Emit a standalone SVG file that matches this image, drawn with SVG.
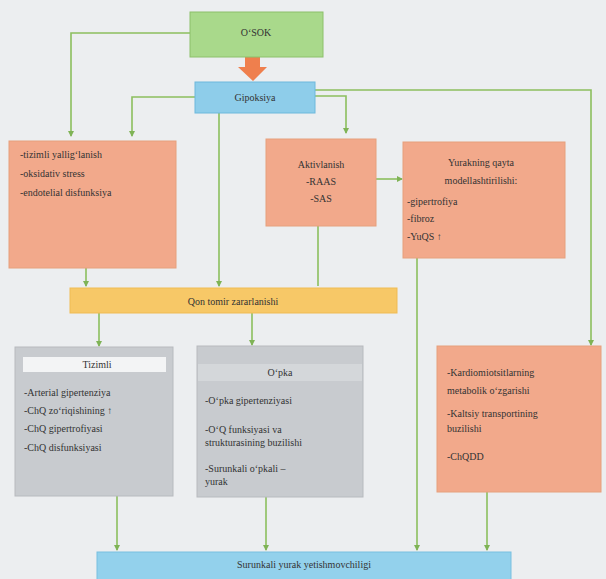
<svg xmlns="http://www.w3.org/2000/svg" width="606" height="579" viewBox="0 0 606 579" font-family="'Liberation Serif', 'Times New Roman', serif">
<defs>
<marker id="ah" markerWidth="6" markerHeight="6" refX="5" refY="3" orient="auto" markerUnits="userSpaceOnUse">
<path d="M0,0 L6,3 L0,6 z" fill="#7fb356"/>
</marker>
<style>
text{font-family:'Liberation Serif','Times New Roman',serif}
.t{font-size:10px;fill:#333333}
.c{text-anchor:middle}
.ln{fill:none;stroke:#8cbf5e;stroke-width:1.6}
.or{fill:#f2a98b;stroke:#e6a07c;stroke-width:1}
.gr{fill:#c8cbcf;stroke:#b7babe;stroke-width:1}
</style>
</defs>
<rect width="606" height="579" fill="#eceef0"/>
<g id="connectors">
<path class="ln" d="M190,33 H71 V136" marker-end="url(#ah)"/>
<path class="ln" d="M195,97 H132 V136" marker-end="url(#ah)"/>
<path class="ln" d="M219,113 V286" marker-end="url(#ah)"/>
<path class="ln" d="M315,96 H346 V133" marker-end="url(#ah)"/>
<path class="ln" d="M315,90 H591 V345" marker-end="url(#ah)"/>
<path class="ln" d="M376,179 H402" marker-end="url(#ah)"/>
<path class="ln" d="M86,268 V286" marker-end="url(#ah)"/>
<path class="ln" d="M318,226 V286"/>
<path class="ln" d="M417,258 V550" marker-end="url(#ah)"/>
<path class="ln" d="M99,313 V346" marker-end="url(#ah)"/>
<path class="ln" d="M252,313 V345" marker-end="url(#ah)"/>
<path class="ln" d="M117,496 V550" marker-end="url(#ah)"/>
<path class="ln" d="M266,497 V550" marker-end="url(#ah)"/>
<path class="ln" d="M487,492 V550" marker-end="url(#ah)"/>
<path d="M245,57 H260 V67 H267 L253,81 L238,67 H245 z" fill="#ef7f4d"/>
</g>
<g id="osok">
<rect x="190" y="12" width="133" height="45" fill="#a9d98b" stroke="#8cc06a"/>
<text class="t c" x="256" y="36" font-size="9">O‘SOK</text>
</g>
<g id="gipoksiya">
<rect x="195" y="82" width="120" height="31" fill="#8ecdea" stroke="#6db8dc"/>
<text class="t c" x="255" y="101" fill="#2f4a6a">Gipoksiya</text>
</g>
<g id="tizimli-yallig">
<rect class="or" x="9" y="141" width="167" height="127"/>
<text class="t" x="20" y="158">-tizimli yallig‘lanish</text>
<text class="t" x="20" y="177">-oksidativ stress</text>
<text class="t" x="20" y="196">-endotelial disfunksiya</text>
</g>
<g id="aktivlanish">
<rect class="or" x="266" y="139" width="110" height="87"/>
<text class="t c" x="321" y="168">Aktivlanish</text>
<text class="t c" x="321" y="185">-RAAS</text>
<text class="t c" x="321" y="202">-SAS</text>
</g>
<g id="yurak-remodel">
<rect class="or" x="403" y="142" width="162" height="116"/>
<text class="t c" x="481" y="166">Yurakning qayta</text>
<text class="t c" x="481" y="184">modellashtirilishi:</text>
<text class="t" x="407" y="205">-gipertrofiya</text>
<text class="t" x="407" y="222">-fibroz</text>
<text class="t" x="407" y="240">-YuQS ↑</text>
</g>
<g id="qon-tomir">
<rect x="70" y="288" width="327" height="25" fill="#f7c867" stroke="#efbb55"/>
<text class="t c" x="233" y="305">Qon tomir zararlanishi</text>
</g>
<g id="tizimli">
<rect class="gr" x="15" y="347" width="158" height="149"/>
<rect x="23" y="357" width="143" height="15" fill="#f3f4f5"/>
<text class="t c" x="97" y="368">Tizimli</text>
<text class="t" x="24" y="396">-Arterial gipertenziya</text>
<text class="t" x="24" y="414">-ChQ zo‘riqishining ↑</text>
<text class="t" x="24" y="432">-ChQ gipertrofiyasi</text>
<text class="t" x="24" y="451">-ChQ disfunksiyasi</text>
</g>
<g id="opka">
<rect class="gr" x="197" y="346" width="166" height="151"/>
<rect x="198" y="364" width="164" height="17" fill="#d4d7da"/>
<text class="t c" x="280" y="376">O‘pka</text>
<text class="t" x="205" y="404">-O‘pka gipertenziyasi</text>
<text class="t" x="205" y="433">-O‘Q funksiyasi va</text>
<text class="t" x="205" y="446">strukturasining buzilishi</text>
<text class="t" x="205" y="472">-Surunkali o‘pkali –</text>
<text class="t" x="205" y="485">yurak</text>
</g>
<g id="kardio">
<rect class="or" x="437" y="346" width="164" height="146"/>
<text class="t" x="447" y="376">-Kardiomiotsitlarning</text>
<text class="t" x="447" y="394">metabolik o‘zgarishi</text>
<text class="t" x="447" y="417">-Kaltsiy transportining</text>
<text class="t" x="447" y="432">buzilishi</text>
<text class="t" x="447" y="460">-ChQDD</text>
</g>
<g id="surunkali">
<rect x="97" y="552" width="414" height="30" fill="#93d1ec" stroke="#78bfe0"/>
<text class="t c" x="304" y="568">Surunkali yurak yetishmovchiligi</text>
</g>
</svg>
